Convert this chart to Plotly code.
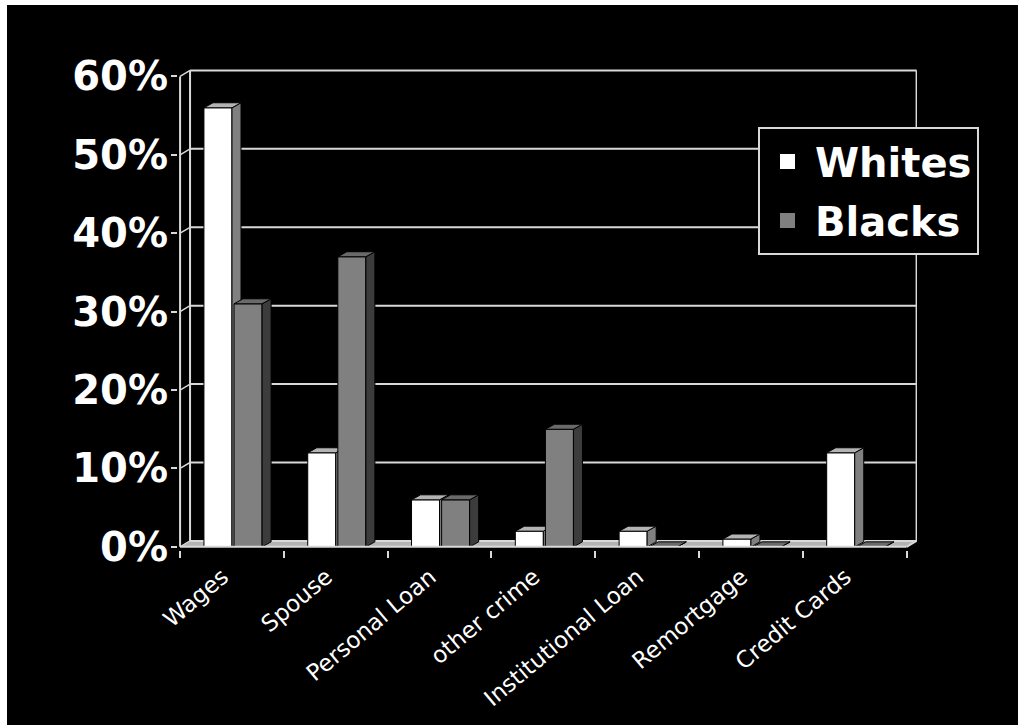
import plotly.graph_objects as go

# ---------------- data ----------------
categories = ["Wages", "Spouse", "Personal Loan", "other crime",
              "Institutional Loan", "Remortgage", "Credit Cards"]
whites = [0.56, 0.12, 0.06, 0.02, 0.02, 0.01, 0.12]
blacks = [0.31, 0.37, 0.06, 0.15, 0.0, 0.0, 0.0]
y_ticks = [0.0, 0.1, 0.2, 0.3, 0.4, 0.5, 0.6]
y_tick_labels = ["0%", "10%", "20%", "30%", "40%", "50%", "60%"]
series_names = ["Whites", "Blacks"]

# ---------------- styling / geometry ----------------
X_RANGE = [-0.52, 6.6]
Y_RANGE = [-0.004, 0.612]
WALL_DX, WALL_DY = 0.096, 0.0076     # depth of the back wall
BAR_DX, BAR_DY = 0.087, 0.0064       # depth of each bar
BAR_W = 0.27
OFFSETS = [-0.27, 0.02]
LABEL_SHIFT = -0.09
FRONT = ["#FFFFFF", "#808080"]
SIDE = ["#808080", "#3C3C3C"]
TOP = ["#B4B4B4", "#6A6A6A"]
LINE = "#D9D9D9"

pos = list(range(len(categories)))
left_edge = -0.5
right_edge = len(categories) - 0.5

fig = go.Figure()


def faces(values, offset):
    sx, sy, tx, ty = [], [], [], []
    for p, v in zip(pos, values):
        x0 = p + offset
        x1 = x0 + BAR_W
        sx += [x1, x1 + BAR_DX, x1 + BAR_DX, x1, x1, None]
        sy += [0, BAR_DY, v + BAR_DY, v, 0, None]
        tx += [x0, x0 + BAR_DX, x1 + BAR_DX, x1, x0, None]
        ty += [v, v + BAR_DY, v + BAR_DY, v, v, None]
    return sx, sy, tx, ty


for i, (vals, name) in enumerate([(whites, series_names[0]), (blacks, series_names[1])]):
    xa = "x" if i == 0 else "x2"
    ya = "y" if i == 0 else "y2"
    fig.add_trace(go.Bar(
        x=pos, y=vals, width=BAR_W, offset=OFFSETS[i],
        marker=dict(color=FRONT[i], line=dict(color="black", width=1)),
        xaxis=xa, yaxis=ya, showlegend=False, name=name, hoverinfo="y"))
    sx, sy, tx, ty = faces(vals, OFFSETS[i])
    fig.add_trace(go.Scatter(
        x=sx, y=sy, mode="lines", fill="toself", fillcolor=SIDE[i],
        line=dict(color="black", width=1), xaxis=xa, yaxis=ya,
        showlegend=False, hoverinfo="skip"))
    fig.add_trace(go.Scatter(
        x=tx, y=ty, mode="lines", fill="toself", fillcolor=TOP[i],
        line=dict(color="black", width=1), xaxis=xa, yaxis=ya,
        showlegend=False, hoverinfo="skip"))

# legend entries
for i, name in enumerate(series_names):
    fig.add_trace(go.Scatter(
        x=[None], y=[None], mode="markers", name=name, legendgroup=name,
        marker=dict(symbol="square", size=30, color=FRONT[i],
                    line=dict(color="black", width=1)),
        xaxis="x2", yaxis="y2"))

shapes = []
# floor
shapes.append(dict(
    type="path", xref="x", yref="y", layer="below",
    path=(f"M {left_edge},0 L {left_edge + WALL_DX},{WALL_DY} "
          f"L {right_edge + WALL_DX},{WALL_DY} L {right_edge},0 Z"),
    fillcolor="#B4B4B4", line=dict(color="black", width=1)))
# back wall grid lines and joints
for v in y_ticks:
    shapes.append(dict(type="line", xref="x", yref="y", layer="below",
                       x0=left_edge + WALL_DX, x1=right_edge + WALL_DX,
                       y0=v + WALL_DY, y1=v + WALL_DY,
                       line=dict(color=LINE, width=2)))
    shapes.append(dict(type="line", xref="x", yref="y", layer="below",
                       x0=left_edge, x1=left_edge + WALL_DX,
                       y0=v, y1=v + WALL_DY,
                       line=dict(color=LINE, width=1.5)))
# walls verticals
for xv in [left_edge + WALL_DX, right_edge + WALL_DX]:
    shapes.append(dict(type="line", xref="x", yref="y", layer="below",
                       x0=xv, x1=xv, y0=WALL_DY, y1=y_ticks[-1] + WALL_DY,
                       line=dict(color=LINE, width=2)))
# front axes
shapes.append(dict(type="line", xref="x", yref="y", layer="below",
                   x0=left_edge, x1=left_edge, y0=0, y1=y_ticks[-1],
                   line=dict(color=LINE, width=2)))
shapes.append(dict(type="line", xref="x", yref="y", layer="above",
                   x0=left_edge, x1=right_edge, y0=0, y1=0,
                   line=dict(color=LINE, width=2)))
shapes.append(dict(type="line", xref="x", yref="y", layer="above",
                   x0=right_edge, x1=right_edge + WALL_DX, y0=0, y1=WALL_DY,
                   line=dict(color=LINE, width=2)))

# thin white frame on left/top edges of the picture
L, R, T, B = 178, 101, 67, 175
PW = 1018 - L - R
PH = 725 - T - B
shapes.append(dict(type="rect", xref="paper", yref="paper", layer="above",
                   x0=-L / PW, x1=(7 - L) / PW, y0=-B / PH, y1=(725 - B) / PH,
                   fillcolor="white", line=dict(width=0)))
shapes.append(dict(type="rect", xref="paper", yref="paper", layer="above",
                   x0=-L / PW, x1=(1018 - L) / PW,
                   y0=(725 - B - 5) / PH, y1=(725 - B) / PH,
                   fillcolor="white", line=dict(width=0)))

fig.update_layout(
    width=1018, height=725,
    margin=dict(l=L, r=R, t=T, b=B),
    paper_bgcolor="black", plot_bgcolor="rgba(0,0,0,0)",
    barmode="overlay",
    shapes=shapes,
    showlegend=True,
    legend=dict(
        x=(758 - L) / PW, y=(550 - 127) / PH, xanchor="left", yanchor="top",
        bgcolor="black", bordercolor=LINE, borderwidth=2,
        font=dict(family="DejaVu Sans", size=40, color="white", weight="bold"),
        traceorder="grouped", tracegroupgap=4, itemsizing="trace",
        itemwidth=45),
    xaxis=dict(
        range=X_RANGE, tickmode="array",
        tickvals=[p + LABEL_SHIFT for p in pos], ticktext=categories,
        ticks="", showline=False, showgrid=False, zeroline=False,
        tickangle=-40, ticklabelstandoff=8,
        tickfont=dict(family="DejaVu Sans", size=23, color="white"),
        minor=dict(tickvals=[p - 0.5 for p in pos] + [right_edge],
                   ticks="outside", ticklen=7, tickwidth=2, tickcolor=LINE,
                   showgrid=False)),
    yaxis=dict(
        range=Y_RANGE, tickmode="array", tickvals=y_ticks, ticktext=y_tick_labels,
        ticks="outside", ticklen=6, tickwidth=2, tickcolor=LINE,
        showline=False, showgrid=False, zeroline=False, ticklabelstandoff=-5,
        tickfont=dict(family="DejaVu Sans", size=40, color="white", weight="bold")),
    xaxis2=dict(range=X_RANGE, overlaying="x", visible=False),
    yaxis2=dict(range=Y_RANGE, overlaying="y", visible=False),
)

fig.write_html("out.html")
